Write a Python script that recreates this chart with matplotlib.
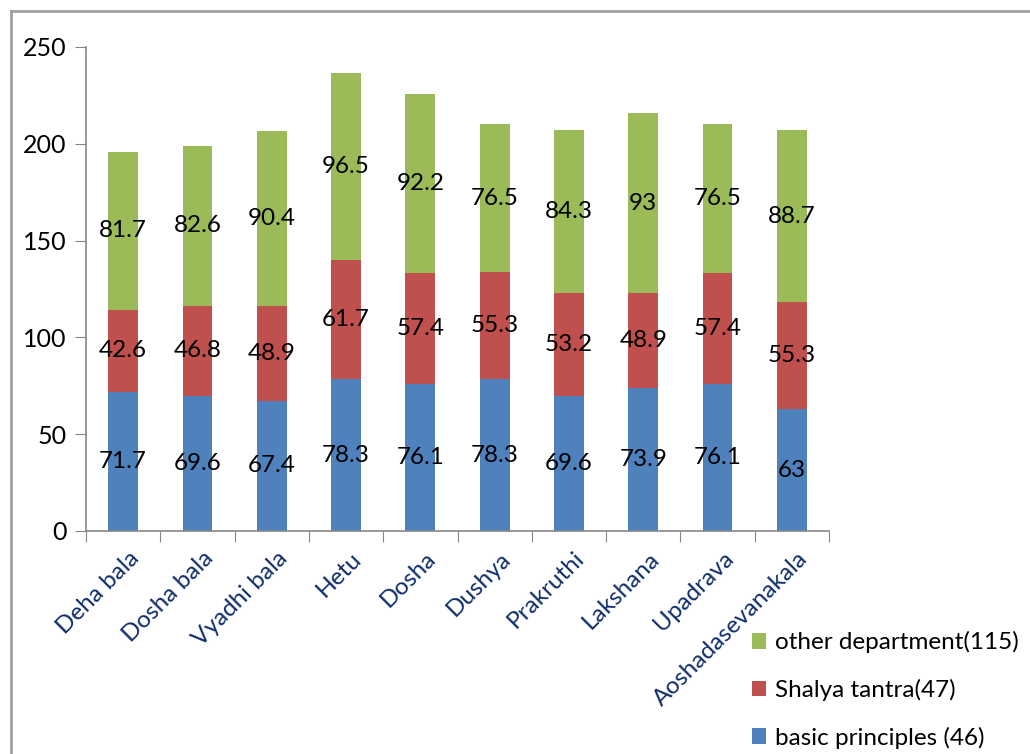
import matplotlib
matplotlib.use("Agg")
import matplotlib.pyplot as plt
from matplotlib.lines import Line2D
from matplotlib.patches import Patch
import matplotlib.transforms as mtransforms
import numpy as np

categories = ["Deha bala", "Dosha bala", "Vyadhi bala", "Hetu", "Dosha",
              "Dushya", "Prakruthi", "Lakshana", "Upadrava", "Aoshadasevanakala"]
basic = [71.7, 69.6, 67.4, 78.3, 76.1, 78.3, 69.6, 73.9, 76.1, 63]
shalya = [42.6, 46.8, 48.9, 61.7, 57.4, 55.3, 53.2, 48.9, 57.4, 55.3]
other = [81.7, 82.6, 90.4, 96.5, 92.2, 76.5, 84.3, 93, 76.5, 88.7]
series_names = ["basic principles (46)", "Shalya tantra(47)", "other department(115)"]
yticks = [0, 50, 100, 150, 200, 250]

colors = ["#4F81BD", "#C0504D", "#9BBB59"]
font = ["Lato", "DejaVu Sans"]
plt.rcParams['font.family'] = font

fig = plt.figure(figsize=(10.30, 7.54), dpi=100)
ax = fig.add_axes([86/1030, 1-531/754, (829-86)/1030, (531-47)/754])

x = np.arange(len(categories))
bottom = np.zeros(len(categories))
for vals, c, name in zip([basic, shalya, other], colors, series_names):
    vals = np.array(vals, dtype=float)
    ax.bar(x, vals, width=0.4, bottom=bottom, color=c, label=name, zorder=2)
    for xi, b, v in zip(x, bottom, vals):
        ax.text(xi, b + v/2, f"{v:g}", ha="center", va="center", fontsize=17.5, color="black", zorder=3)
    bottom += vals

ax.set_xlim(-0.5, len(categories) - 0.5)
ax.set_ylim(0, 250)
ax.set_yticks(yticks)
ax.set_yticklabels([str(t) for t in yticks], fontsize=18)
ax.tick_params(axis='y', direction='out', length=8, color="#868686", pad=6)
ax.set_xticks(np.arange(-0.5, len(categories), 1.0))
ax.set_xticklabels([])
ax.tick_params(axis='x', which='major', direction='out', length=8, color="#868686")
ax.set_xticks(x, minor=True)
ax.set_xticklabels(categories, minor=True, rotation=45, ha='right', rotation_mode='anchor',
                   fontsize=17.5, color="#0F2D6B")
ax.tick_params(axis='x', which='minor', length=0, pad=12)
offset = mtransforms.ScaledTranslation(5/100, 0, fig.dpi_scale_trans)
for lab in ax.get_xticklabels(minor=True):
    lab.set_transform(lab.get_transform() + offset)

for s in ["top", "right"]:
    ax.spines[s].set_visible(False)
for s in ["left", "bottom"]:
    ax.spines[s].set_color("#868686")
    ax.spines[s].set_linewidth(1.2)

handles = [Patch(facecolor=colors[i], edgecolor='none') for i in [2, 1, 0]]
labels = [series_names[i] for i in [2, 1, 0]]
leg = fig.legend(handles, labels, loc="lower left", bbox_to_anchor=(730/1030, -0.022),
                 frameon=False, fontsize=17.5, handlelength=0.6, handleheight=0.6,
                 handletextpad=0.35, labelspacing=1.05)

# outer chart frame
fig.add_artist(Line2D([11/1030, 1.0], [1-11/754, 1-11/754], color="#A0A0A0", lw=2.0))
fig.add_artist(Line2D([11/1030, 11/1030], [0, 1-11/754], color="#A0A0A0", lw=2.0))

fig.savefig("out.png", dpi=100)
